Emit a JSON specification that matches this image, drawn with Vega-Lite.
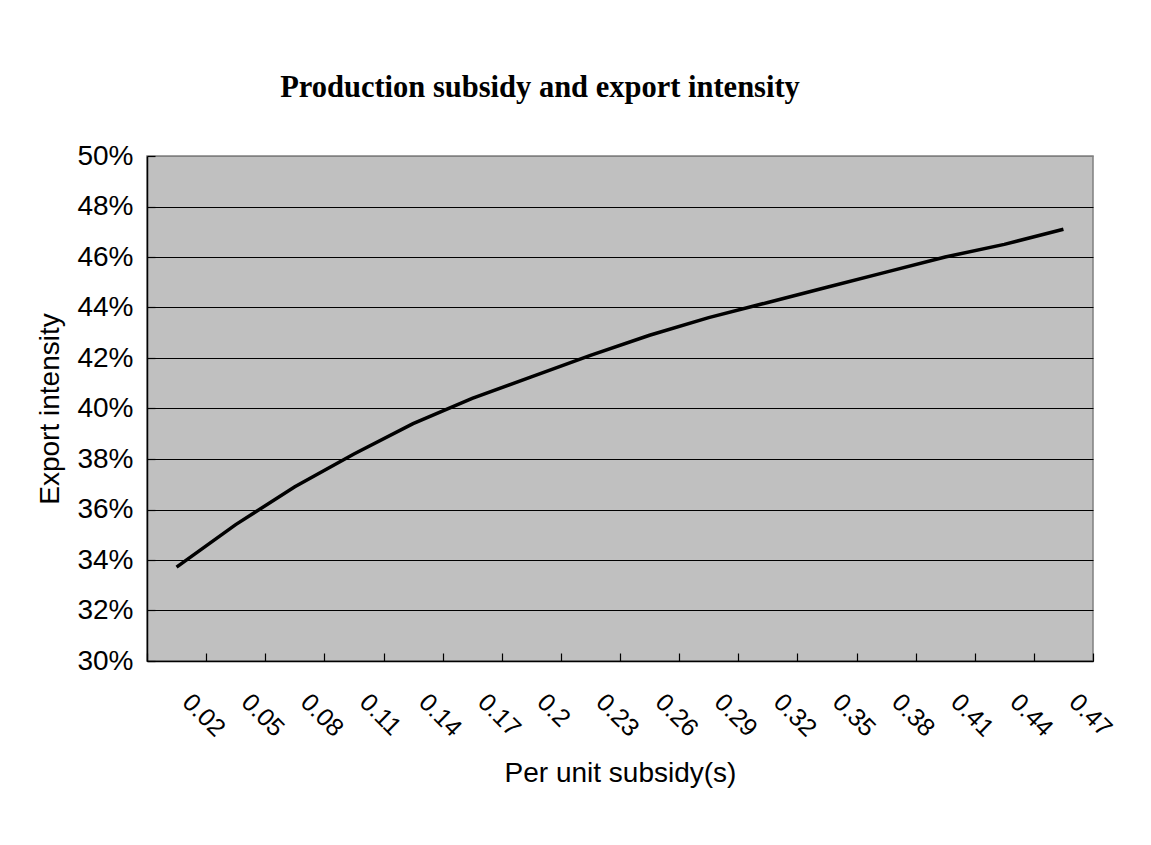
{
  "$schema": "https://vega.github.io/schema/vega-lite/v6.json",
  "autosize": {"type": "none"},
  "padding": {"left": 147, "top": 156, "right": 58, "bottom": 184},
  "width": 946,
  "height": 505,
  "background": "white",
  "title": {
    "text": "Production subsidy and export intensity",
    "font": "Liberation Serif",
    "fontSize": 30.5,
    "fontWeight": "bold",
    "color": "black",
    "anchor": "middle",
    "frame": "group",
    "dx": -80,
    "baseline": "alphabetic",
    "offset": 15
  },
  "data": {
    "values": [
      {"s": "0.02", "v": 0.3372},
      {"s": "0.05", "v": 0.354},
      {"s": "0.08", "v": 0.369},
      {"s": "0.11", "v": 0.382},
      {"s": "0.14", "v": 0.394},
      {"s": "0.17", "v": 0.404},
      {"s": "0.2", "v": 0.4125},
      {"s": "0.23", "v": 0.421},
      {"s": "0.26", "v": 0.429},
      {"s": "0.29", "v": 0.436},
      {"s": "0.32", "v": 0.442},
      {"s": "0.35", "v": 0.448},
      {"s": "0.38", "v": 0.454},
      {"s": "0.41", "v": 0.460},
      {"s": "0.44", "v": 0.465},
      {"s": "0.47", "v": 0.471}
    ]
  },
  "mark": {"type": "line", "color": "black", "strokeWidth": 3.5},
  "encoding": {
    "x": {
      "field": "s",
      "type": "ordinal",
      "sort": null,
      "scale": {"type": "band", "paddingInner": 0, "paddingOuter": 0},
      "axis": {
        "title": "Per unit subsidy(s)",
        "labelAngle": 45,
        "labelAlign": "left",
        "labelBaseline": "top",
        "labelFont": "Liberation Sans",
        "labelFontSize": 25,
        "labelColor": "black",
        "labelPadding": 36,
        "labelOffset": 18,
        "ticks": true,
        "tickBand": "extent",
        "tickSize": -8,
        "tickColor": "black",
        "tickWidth": 1.2,
        "domainColor": "black",
        "domainWidth": 1.5,
        "grid": false,
        "titleFont": "Liberation Sans",
        "titleFontSize": 28,
        "titleFontWeight": "normal",
        "titleColor": "black",
        "titlePadding": 18
      }
    },
    "y": {
      "field": "v",
      "type": "quantitative",
      "scale": {"domain": [0.3, 0.5], "nice": false, "zero": false},
      "axis": {
        "title": "Export intensity",
        "values": [0.3, 0.32, 0.34, 0.36, 0.38, 0.4, 0.42, 0.44, 0.46, 0.48, 0.5],
        "format": ".0%",
        "labelFont": "Liberation Sans",
        "labelFontSize": 28,
        "labelColor": "black",
        "labelPadding": 22,
        "tickSize": -8,
        "tickColor": "black",
        "tickWidth": 1.2,
        "domainColor": "black",
        "domainWidth": 1.5,
        "grid": true,
        "gridColor": {"condition": {"test": "datum.value >= 0.5", "value": "#808080"}, "value": "black"},
        "gridWidth": 1,
        "titleFont": "Liberation Sans",
        "titleFontSize": 28,
        "titleFontWeight": "normal",
        "titleColor": "black",
        "titlePadding": 12
      }
    }
  },
  "config": {
    "view": {"stroke": "#808080", "strokeWidth": 1.5, "fill": "#C0C0C0"}
  }
}
